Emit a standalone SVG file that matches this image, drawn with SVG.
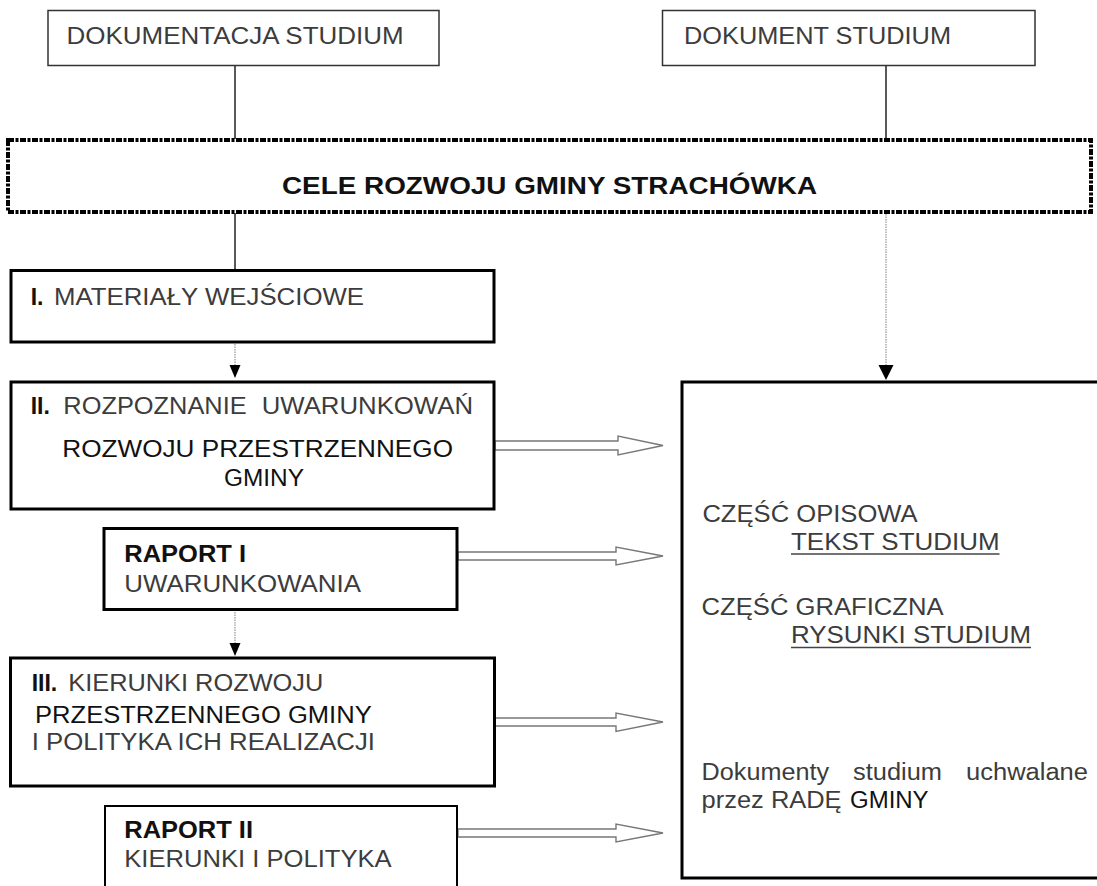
<svg xmlns="http://www.w3.org/2000/svg" width="1097" height="886" viewBox="0 0 1097 886">
<defs>
<style>
.t{font-family:"Liberation Sans",Arial,sans-serif;fill:#3c3c3c;font-size:23px}
.d{fill:#111}
.b{font-weight:bold;fill:#111}
.thin{fill:#fff;stroke:#333;stroke-width:1.5}
.thick{fill:#fff;stroke:#000;stroke-width:3}
.blk{stroke:#222;stroke-width:1.5;fill:none}
.gry{stroke:#aaa;stroke-width:1.5;fill:none;stroke-dasharray:1.5 1}
.hol{fill:#fff;stroke:#777;stroke-width:1.4}
</style>
</defs>
<rect width="1097" height="886" fill="#fff"/>

<g id="connectors">
<line class="blk" x1="235" y1="66" x2="235" y2="139"/>
<line class="blk" x1="886" y1="66" x2="886" y2="139"/>
<line class="blk" x1="235" y1="213" x2="235" y2="269"/>
<line class="gry" x1="886" y1="214" x2="886" y2="366"/>
<polygon points="878.5,365 893.5,365 886,380" fill="#000"/>
<line class="gry" x1="235" y1="344" x2="235" y2="366"/>
<polygon points="229.5,365 240.5,365 235,378" fill="#000"/>
<line class="gry" x1="235" y1="612" x2="235" y2="644"/>
<polygon points="229.5,643 240.5,643 235,656" fill="#000"/>
<polygon class="hol" points="495,441 618,441 618,436 663,445.5 618,455 618,450 495,450"/>
<polygon class="hol" points="458,552 616,552 616,547 663,556 616,565 616,560 458,560"/>
<polygon class="hol" points="495,718 616,718 616,713 663,722 616,731.5 616,726 495,726"/>
<polygon class="hol" points="458,829 616,829 616,824 663,833 616,842 616,837 458,837"/>
</g>

<g id="dokumentacja">
<rect class="thin" x="48" y="10.5" width="391" height="55"/>
<text class="t" x="66.6" y="44.3" font-size="22.5" textLength="337" lengthAdjust="spacingAndGlyphs">DOKUMENTACJA STUDIUM</text>
</g>

<g id="dokument">
<rect class="thin" x="662.5" y="10.5" width="372.5" height="55"/>
<text class="t" x="684" y="44.3" font-size="22.5" textLength="267" lengthAdjust="spacingAndGlyphs">DOKUMENT STUDIUM</text>
</g>

<g id="cele">
<rect x="8" y="140" width="1083" height="72" fill="#fff" stroke="#000" stroke-width="4" stroke-dasharray="6 1.5 3 1.5"/>
<text class="t b" x="282" y="194.3" font-size="25" textLength="535" lengthAdjust="spacingAndGlyphs">CELE ROZWOJU GMINY STRACHÓWKA</text>
</g>

<g id="etap1">
<rect class="thick" x="11" y="270.5" width="483" height="71.5"/>
<text class="t b" x="30.7" y="305" font-size="24.5">I.</text>
<text class="t" x="54" y="305" font-size="24.5" textLength="310" lengthAdjust="spacingAndGlyphs">MATERIAŁY WEJŚCIOWE</text>
</g>

<g id="etap2">
<rect class="thick" x="11" y="382" width="483" height="127"/>
<text class="t b" x="30.7" y="414" font-size="24.5">II.</text>
<text class="t" y="414" font-size="24.5"><tspan x="63.3" textLength="183.4" lengthAdjust="spacingAndGlyphs">ROZPOZNANIE</tspan> <tspan x="261.7" textLength="211.3" lengthAdjust="spacingAndGlyphs">UWARUNKOWAŃ</tspan></text>
<text class="t d" x="62.3" y="456.7" font-size="25.5" textLength="390.7" lengthAdjust="spacingAndGlyphs">ROZWOJU PRZESTRZENNEGO</text>
<text class="t d" x="224" y="486" font-size="25.5" textLength="80" lengthAdjust="spacingAndGlyphs">GMINY</text>
</g>

<g id="raport1">
<rect class="thick" x="104" y="528.5" width="353" height="81"/>
<text class="t b" x="124.3" y="562.3" font-size="22" textLength="121.7" lengthAdjust="spacingAndGlyphs">RAPORT I</text>
<text class="t" x="124.3" y="591.7" font-size="22" textLength="236.7" lengthAdjust="spacingAndGlyphs">UWARUNKOWANIA</text>
</g>

<g id="etap3">
<rect class="thick" x="10.5" y="658" width="484" height="128"/>
<text class="t b" x="31.7" y="690.7" font-size="23">III.</text>
<text class="t" x="68.3" y="690.7" font-size="23" textLength="255" lengthAdjust="spacingAndGlyphs">KIERUNKI ROZWOJU</text>
<text class="t d" x="35" y="723.3" font-size="25.5" textLength="336.7" lengthAdjust="spacingAndGlyphs">PRZESTRZENNEGO GMINY</text>
<text class="t" x="31.7" y="750" font-size="23" textLength="343.3" lengthAdjust="spacingAndGlyphs">I POLITYKA ICH REALIZACJI</text>
</g>

<g id="raport2">
<rect x="105" y="806" width="352" height="100" fill="#fff" stroke="#000" stroke-width="2"/>
<text class="t b" x="124.3" y="838.3" font-size="22" textLength="128.7" lengthAdjust="spacingAndGlyphs">RAPORT II</text>
<text class="t" x="124.3" y="866.7" font-size="22" textLength="267.4" lengthAdjust="spacingAndGlyphs">KIERUNKI I POLITYKA</text>
</g>

<g id="studium">
<rect class="thick" x="682" y="382" width="430" height="496"/>
<text class="t" x="702.4" y="521.7" font-size="23" textLength="215.2" lengthAdjust="spacingAndGlyphs">CZĘŚĆ OPISOWA</text>
<text class="t" x="791" y="550" font-size="23" textLength="208.5" lengthAdjust="spacingAndGlyphs">TEKST STUDIUM</text>
<line x1="791" y1="554" x2="999.5" y2="554" stroke="#444" stroke-width="1.3"/>
<text class="t" x="701.6" y="615" font-size="23" textLength="242" lengthAdjust="spacingAndGlyphs">CZĘŚĆ GRAFICZNA</text>
<text class="t" x="791" y="643.3" font-size="23" textLength="240" lengthAdjust="spacingAndGlyphs">RYSUNKI STUDIUM</text>
<line x1="791" y1="647.5" x2="1031" y2="647.5" stroke="#444" stroke-width="1.3"/>
<text class="t" y="780" font-size="22"><tspan x="701.6" textLength="127.4" lengthAdjust="spacingAndGlyphs">Dokumenty</tspan> <tspan x="853" textLength="89" lengthAdjust="spacingAndGlyphs">studium</tspan> <tspan x="966" textLength="122" lengthAdjust="spacingAndGlyphs">uchwalane</tspan></text>
<text class="t" y="808.3" font-size="22"><tspan x="701.6" textLength="140" lengthAdjust="spacingAndGlyphs">przez RADĘ</tspan> <tspan class="d" x="850" textLength="78.6" lengthAdjust="spacingAndGlyphs">GMINY</tspan></text>
</g>
</svg>
